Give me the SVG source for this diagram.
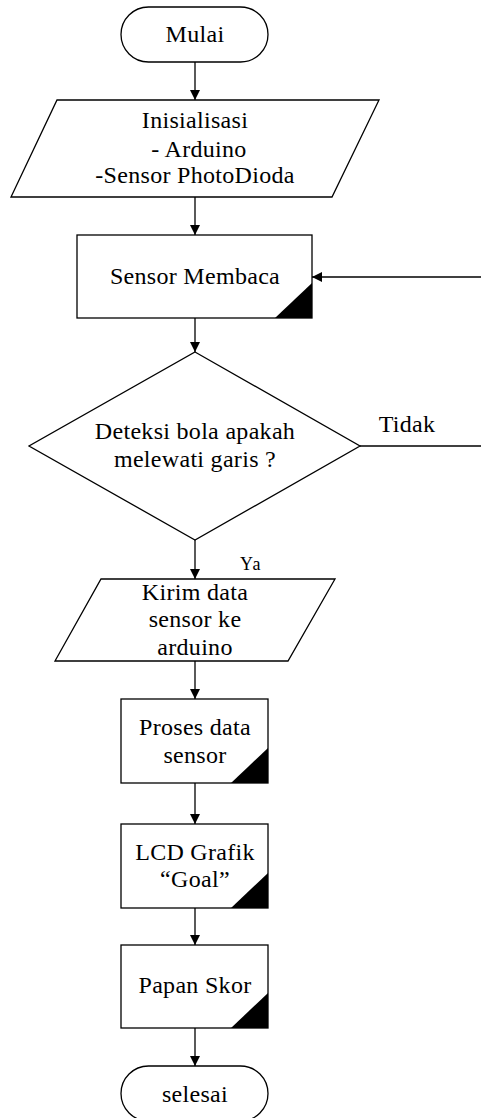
<svg xmlns="http://www.w3.org/2000/svg" width="481" height="1118" viewBox="0 0 481 1118">
<style>
.s{fill:#fff;stroke:#000;stroke-width:1.3}
.c{fill:#000}
.t{font-family:"Liberation Serif","Times New Roman",serif;font-size:24px;letter-spacing:0.3px;fill:#000;text-anchor:middle}
.l{fill:none;stroke:#000;stroke-width:1.3}
</style>
<defs>
<marker id="ah" markerUnits="userSpaceOnUse" markerWidth="10" markerHeight="11" refX="10" refY="5" orient="auto" viewBox="0 0 10 10">
<path d="M0,0 L10,5 L0,10 z" fill="#000"/>
</marker>
</defs>
<rect width="481" height="1118" fill="#fff"/>
<g id="connectors">
<line class="l" x1="195" y1="62" x2="195" y2="100" marker-end="url(#ah)"/>
<line class="l" x1="195" y1="197" x2="195" y2="235" marker-end="url(#ah)"/>
<line class="l" x1="195" y1="318" x2="195" y2="352" marker-end="url(#ah)"/>
<line class="l" x1="195" y1="540" x2="195" y2="579" marker-end="url(#ah)"/>
<line class="l" x1="195" y1="661" x2="195" y2="699" marker-end="url(#ah)"/>
<line class="l" x1="195" y1="783" x2="195" y2="824" marker-end="url(#ah)"/>
<line class="l" x1="195" y1="908" x2="195" y2="945" marker-end="url(#ah)"/>
<line class="l" x1="195" y1="1028" x2="195" y2="1066" marker-end="url(#ah)"/>
<line class="l" x1="360" y1="446" x2="481" y2="446"/>
<line class="l" x1="481" y1="277" x2="312" y2="277" marker-end="url(#ah)"/>
<text class="t" x="407" y="432">Tidak</text>
<text class="t" x="251" y="570" style="font-size:18px;letter-spacing:1.5px">Ya</text>
</g>
<g id="mulai">
<rect class="s" x="121" y="7" width="147" height="55" rx="27.5" ry="27.5"/>
<text class="t" x="195" y="42">Mulai</text>
</g>
<g id="inisialisasi">
<polygon class="s" points="57,100 379,100 332,197 11,197"/>
<text class="t" x="195" y="128">Inisialisasi</text>
<text class="t" x="199" y="157">- Arduino</text>
<text class="t" x="195" y="183">-Sensor PhotoDioda</text>
</g>
<g id="sensor-membaca">
<rect class="s" x="77" y="235" width="235" height="83"/>
<polygon class="c" points="275,318 312,283 312,318"/>
<text class="t" x="195" y="284">Sensor Membaca</text>
</g>
<g id="deteksi">
<polygon class="s" points="195,352 360,446 195,540 29,446"/>
<text class="t" x="195" y="439">Deteksi bola apakah</text>
<text class="t" x="195" y="467">melewati garis ?</text>
</g>
<g id="kirim">
<polygon class="s" points="101,579 335,579 288,661 55,661"/>
<text class="t" x="195" y="600">Kirim data</text>
<text class="t" x="195" y="627">sensor ke</text>
<text class="t" x="195" y="655">arduino</text>
</g>
<g id="proses">
<rect class="s" x="121" y="699" width="147" height="84"/>
<polygon class="c" points="231,783 268,748 268,783"/>
<text class="t" x="195" y="735">Proses data</text>
<text class="t" x="195" y="763">sensor</text>
</g>
<g id="lcd">
<rect class="s" x="121" y="824" width="147" height="84"/>
<polygon class="c" points="231,908 268,873 268,908"/>
<text class="t" x="195" y="860">LCD Grafik</text>
<text class="t" x="195" y="887">“Goal”</text>
</g>
<g id="papan">
<rect class="s" x="121" y="945" width="147" height="83"/>
<polygon class="c" points="231,1028 268,993 268,1028"/>
<text class="t" x="195" y="993">Papan Skor</text>
</g>
<g id="selesai">
<rect class="s" x="121" y="1066" width="147" height="55" rx="27.5" ry="27.5"/>
<text class="t" x="195" y="1102">selesai</text>
</g>
</svg>
